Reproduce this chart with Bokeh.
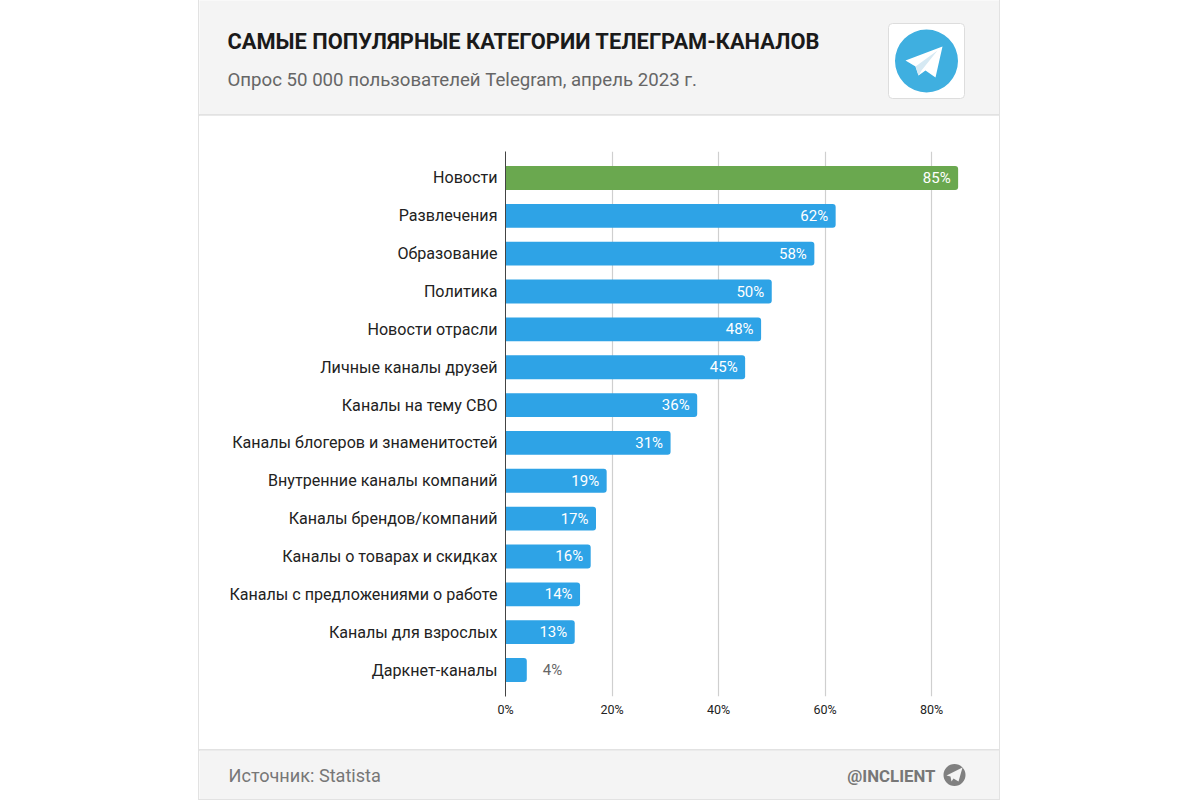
from bokeh.plotting import figure
from bokeh.models import FactorRange, Range1d, FixedTicker, ColumnDataSource
from bokeh.core.properties import value
from bokeh.embed import file_html
from bokeh.resources import INLINE

categories = ["Новости", "Развлечения", "Образование", "Политика", "Новости отрасли",
              "Личные каналы друзей", "Каналы на тему СВО", "Каналы блогеров и знаменитостей",
              "Внутренние каналы компаний", "Каналы брендов/компаний", "Каналы о товарах и скидках",
              "Каналы с предложениями о работе", "Каналы для взрослых", "Даркнет-каналы"]
values = [85, 62, 58, 50, 48, 45, 36, 31, 19, 17, 16, 14, 13, 4]
x_ticks = [0, 20, 40, 60, 80]
title_text = "САМЫЕ ПОПУЛЯРНЫЕ КАТЕГОРИИ ТЕЛЕГРАМ-КАНАЛОВ"
subtitle_text = "Опрос 50 000 пользователей Telegram, апрель 2023 г."
source_text = "Источник: Statista"
brand_text = "@INCLIENT"

GREEN = "#6aa84f"
BLUE = "#2ea3e6"
PANEL = "#f4f4f4"
EDGE = "#e2e2e2"
FONT = "Roboto"

CARD_L, CARD_R = 199, 999
HEAD_B, FOOT_T, PAGE_B = 115, 750, 799
L, R, T, B = 505, 984, 151, 696
PX_PER_PCT = 5.325
CARD_STYLE = {"outline": "1px solid " + EDGE}


def panel(y0, y1):
    f = figure(width=CARD_R - CARD_L, height=y1 - y0, output_backend="svg", toolbar_location=None,
               x_range=Range1d(CARD_L, CARD_R), y_range=Range1d(y1, y0),
               min_border_left=0, min_border_right=0, min_border_top=0, min_border_bottom=0,
               x_axis_location=None, y_axis_location=None, background_fill_color=PANEL,
               border_fill_color=PANEL, margin=(0, 0, 0, CARD_L), styles=CARD_STYLE)
    f.outline_line_color = None
    f.grid.grid_line_color = None
    return f


def txt(f, x, y, text, size, color, style="normal", align="left"):
    f.text(x=[x], y=[y], text=[text], text_font=value(FONT), text_font_size=size, text_color=color,
           text_font_style=style, text_align=align, text_baseline="middle")


# header
head = panel(0, HEAD_B)
txt(head, 227, 41, title_text, "21.85px", "#1a1a1a", "bold")
txt(head, 227, 79, subtitle_text, "18.65px", "#666666")
head.quad(left=888, right=964, top=23, bottom=98, fill_color="white", line_color="#dddddd",
          border_radius=4)
head.scatter(x=[926], y=[60.5], size=63, marker="circle", fill_color="#3fafe0", line_color=None)
head.patch([905, 942, 935, 925, 918, 915], [60, 46, 77, 70, 75, 66], fill_color="white", line_color=None)
head.patch([915, 937, 921, 918], [66, 50, 70, 75], fill_color="#d6e9f3", line_color=None)

# chart
p = figure(width=CARD_R - CARD_L, height=FOOT_T - HEAD_B, output_backend="svg", toolbar_location=None,
           x_range=Range1d(0, (R - L) / PX_PER_PCT),
           y_range=FactorRange(factors=categories[::-1], range_padding=0.2, range_padding_units="absolute"),
           min_border_left=L - CARD_L, min_border_right=CARD_R - R,
           min_border_top=T - HEAD_B, min_border_bottom=FOOT_T - B,
           margin=(0, 0, 0, CARD_L), styles=CARD_STYLE)
p.outline_line_color = None
p.xgrid.ticker = FixedTicker(ticks=x_ticks[1:])
p.xgrid.grid_line_color = "#cfcfcf"
p.xgrid.grid_line_width = 1.2
p.ygrid.grid_line_color = None

p.xaxis.ticker = FixedTicker(ticks=x_ticks)
p.xaxis.major_label_overrides = {t: f"{t}%" for t in x_ticks}
p.xaxis.axis_line_color = None
p.xaxis.major_tick_line_color = None
p.xaxis.minor_tick_line_color = None
p.xaxis.major_tick_out = 0
p.xaxis.major_tick_in = 0
p.xaxis.major_label_text_font = FONT
p.xaxis.major_label_text_font_size = "12.5px"
p.xaxis.major_label_text_color = "#222222"
p.xaxis.major_label_standoff = 5

p.yaxis.axis_line_color = "#444444"
p.yaxis.axis_line_width = 1
p.yaxis.major_tick_line_color = None
p.yaxis.minor_tick_line_color = None
p.yaxis.major_tick_out = 0
p.yaxis.major_tick_in = 0
p.yaxis.major_label_text_font = FONT
p.yaxis.major_label_text_font_size = "16.1px"
p.yaxis.major_label_text_color = "#222222"
p.yaxis.major_label_standoff = 8

colors = [GREEN] + [BLUE] * (len(values) - 1)
src = ColumnDataSource(dict(cat=categories, val=values, col=colors))
p.hbar(y="cat", left=0, right="val", height=0.63, fill_color="col", line_color=None,
       border_radius=(0, 3, 3, 0), source=src)

inside = ColumnDataSource(dict(cat=categories[:-1], val=values[:-1], txt=[f"{v}%" for v in values[:-1]]))
p.text(y="cat", x="val", text="txt", x_offset=-7.5, text_align="right", text_baseline="middle",
       text_color="white", text_font=value(FONT), text_font_size="15px", source=inside)
outside = ColumnDataSource(dict(cat=categories[-1:], val=values[-1:], txt=[f"{v}%" for v in values[-1:]]))
p.text(y="cat", x="val", text="txt", x_offset=16, text_align="left", text_baseline="middle",
       text_color="#666666", text_font=value(FONT), text_font_size="15px", source=outside)

# footer
foot = panel(FOOT_T, PAGE_B)
txt(foot, 228, 775, source_text, "18.1px", "#777777")
txt(foot, 935, 775, brand_text, "16.8px", "#777777", "bold", "right")
foot.scatter(x=[954], y=[774.5], size=22, marker="circle", fill_color="#808080", line_color=None)
foot.patch([946, 962, 958, 953, 951, 950], [775, 767, 781, 778, 781, 776], fill_color=PANEL, line_color=None)

open("out.html", "w").write(file_html([head, p, foot], INLINE))
